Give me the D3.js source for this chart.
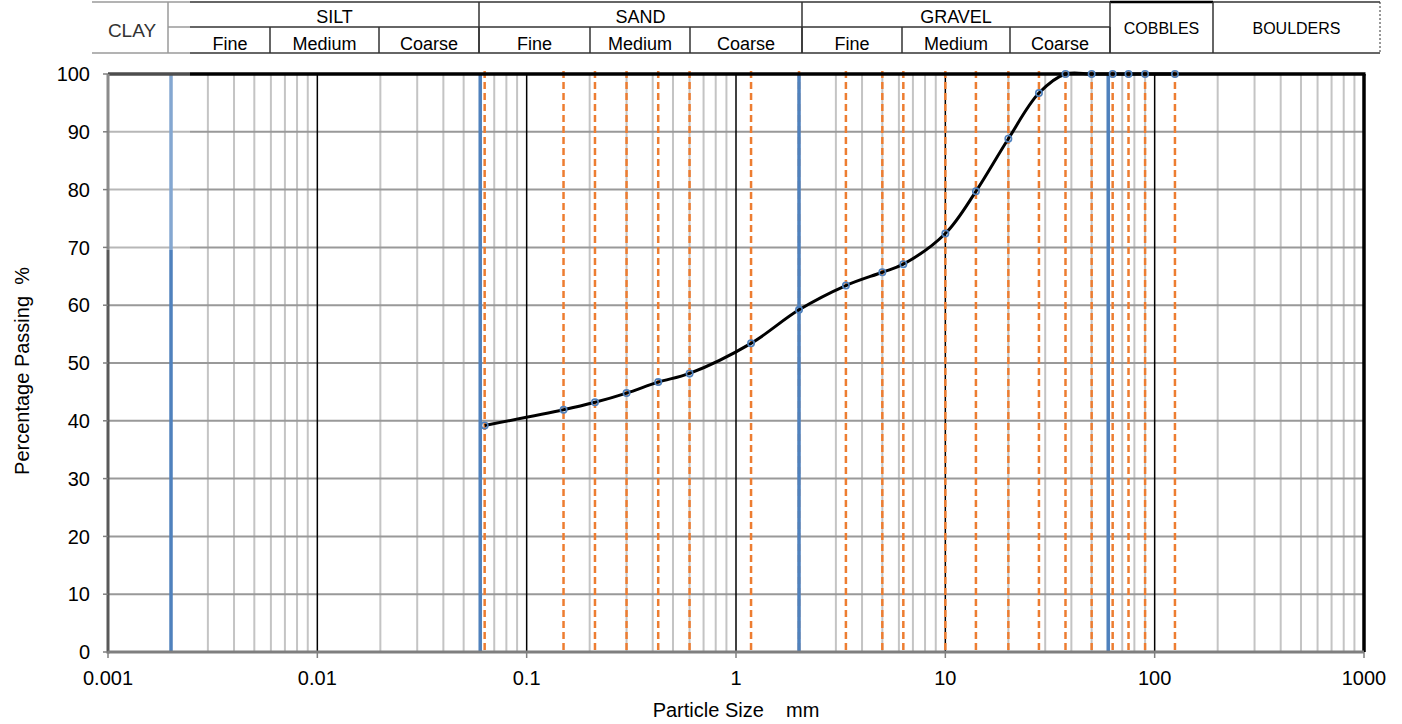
<!DOCTYPE html>
<html>
<head>
<meta charset="utf-8">
<script src="https://cdn.jsdelivr.net/npm/d3@7"></script>
<style>
  body { margin: 0; background: #fff; }
  text { font-family: "Liberation Sans", Arial, sans-serif; fill: #000; }
</style>
</head>
<body>
<script>
// sieve sizes (mm) and percentage passing
const sieveSizes = [0.063, 0.15, 0.212, 0.3, 0.425, 0.6, 1.18, 2, 3.35, 5, 6.3, 10, 14, 20, 28, 37.5, 50, 63, 75, 90, 125];
const passing    = [39.2, 41.9, 43.2, 44.8, 46.7, 48.2, 53.4, 59.2, 63.4, 65.7, 67.1, 72.4, 79.7, 88.8, 96.7, 100, 100, 100, 100, 100, 100];

// soil class boundaries (mm)
const boundaries = [0.002, 0.06, 2, 60];

// axis ticks
const xTicks = [0.001, 0.01, 0.1, 1, 10, 100, 1000];
const yTicks = [0, 10, 20, 30, 40, 50, 60, 70, 80, 90, 100];

// header table labels
const groups = ["SILT", "SAND", "GRAVEL"];
const subLabels = ["Fine", "Medium", "Coarse"];
const bigCells = ["COBBLES", "BOULDERS"];

const W = 1402, H = 724;
const pLeft = 108, pRight = 1364, pTop = 74, pBottom = 652;

const svg = d3.select("body").append("svg")
  .attr("width", W)
  .attr("height", H);

const x = d3.scaleLog().domain([0.001, 1000]).range([pLeft, pRight]);
const y = d3.scaleLinear().domain([0, 100]).range([pBottom, pTop]);

// minor vertical grid
const minor = [];
for (let e = -3; e < 3; e++) {
  for (let m = 2; m <= 9; m++) minor.push(m * Math.pow(10, e));
}
svg.append("g").selectAll("line")
  .data(minor)
  .join("line")
  .attr("x1", d => x(d)).attr("x2", d => x(d))
  .attr("y1", pTop).attr("y2", pBottom)
  .attr("stroke", "#c4c4c4")
  .attr("stroke-width", 2);

// horizontal grid
svg.append("g").selectAll("line")
  .data(yTicks.slice(1, -1))
  .join("line")
  .attr("x1", pLeft).attr("x2", pRight)
  .attr("y1", d => y(d)).attr("y2", d => y(d))
  .attr("stroke", "#999")
  .attr("stroke-width", 2);

// decade lines
svg.append("g").selectAll("line")
  .data(xTicks.slice(1, -1))
  .join("line")
  .attr("x1", d => x(d)).attr("x2", d => x(d))
  .attr("y1", pTop).attr("y2", pBottom)
  .attr("stroke", "#000")
  .attr("stroke-width", 1.5);

// sieve lines
svg.append("g").selectAll("line")
  .data(sieveSizes)
  .join("line")
  .attr("x1", d => x(d)).attr("x2", d => x(d))
  .attr("y1", pTop - 3).attr("y2", pBottom)
  .attr("stroke", "#ed7d31")
  .attr("stroke-width", 2.5)
  .attr("stroke-dasharray", "7,4");

// class boundaries
svg.append("g").selectAll("line")
  .data(boundaries)
  .join("line")
  .attr("x1", d => x(d)).attr("x2", d => x(d))
  .attr("y1", pTop).attr("y2", pBottom)
  .attr("stroke", "#4f81bd")
  .attr("stroke-width", 3.5);

// plot frame
svg.append("line").attr("x1", pLeft).attr("x2", pRight + 1.5).attr("y1", pTop).attr("y2", pTop)
  .attr("stroke", "#000").attr("stroke-width", 3.5);
svg.append("line").attr("x1", pRight).attr("x2", pRight).attr("y1", pTop).attr("y2", pBottom)
  .attr("stroke", "#000").attr("stroke-width", 3.5);
svg.append("line").attr("x1", pLeft).attr("x2", pLeft).attr("y1", pTop).attr("y2", pBottom + 1.5)
  .attr("stroke", "#595959").attr("stroke-width", 3);
svg.append("line").attr("x1", pLeft).attr("x2", pRight).attr("y1", pBottom).attr("y2", pBottom)
  .attr("stroke", "#7f7f7f").attr("stroke-width", 3);

// faded patch left by the pasted header image
svg.append("rect").attr("x", 96).attr("y", 70).attr("width", 94).attr("height", 180)
  .attr("fill", "#fff").attr("opacity", 0.3);

// ticks
svg.append("g").selectAll("line")
  .data(yTicks)
  .join("line")
  .attr("x1", pLeft - 5).attr("x2", pLeft)
  .attr("y1", d => y(d)).attr("y2", d => y(d))
  .attr("stroke", "#7f7f7f").attr("stroke-width", 1.5);
svg.append("g").selectAll("line")
  .data(xTicks)
  .join("line")
  .attr("x1", d => x(d)).attr("x2", d => x(d))
  .attr("y1", pBottom).attr("y2", pBottom + 6)
  .attr("stroke", "#7f7f7f").attr("stroke-width", 1.5);

// tick labels
svg.append("g").selectAll("text")
  .data(yTicks)
  .join("text")
  .attr("x", pLeft - 18)
  .attr("y", d => y(d))
  .attr("dy", "0.36em")
  .attr("text-anchor", "end")
  .attr("font-size", 20)
  .text(d => d);
svg.append("g").selectAll("text")
  .data(xTicks)
  .join("text")
  .attr("x", d => x(d))
  .attr("y", 685)
  .attr("text-anchor", "middle")
  .attr("font-size", 20)
  .text(d => d);

// axis titles
svg.append("text")
  .attr("x", 736).attr("y", 717)
  .attr("text-anchor", "middle")
  .attr("font-size", 20)
  .attr("xml:space", "preserve")
  .text("Particle Size    mm");
svg.append("text")
  .attr("transform", "translate(29,371) rotate(-90)")
  .attr("text-anchor", "middle")
  .attr("font-size", 20)
  .attr("xml:space", "preserve")
  .text("Percentage Passing  %");

// grading curve
const pts = sieveSizes.map((s, i) => [s, passing[i]]);
svg.append("path")
  .datum(pts)
  .attr("fill", "none")
  .attr("stroke", "#000")
  .attr("stroke-width", 3)
  .attr("d", d3.line().x(d => x(d[0])).y(d => y(d[1])).curve(d3.curveCatmullRom.alpha(0.5)));

svg.append("g").selectAll("circle")
  .data(pts)
  .join("circle")
  .attr("cx", d => x(d[0]))
  .attr("cy", d => y(d[1]))
  .attr("r", 3.2)
  .attr("fill", "none")
  .attr("stroke", "#4f81bd")
  .attr("stroke-width", 1.6);

// header table
const hTop = 2, hMid = 27, hBot = 53;
const subEdges = [190, 270, 379, 479, 590, 690, 802, 902, 1010, 1110];
const bigEdges = [1110, 1213, 1380];
const head = svg.append("g");
const hl = (x1, y1, x2, y2, c, w) => head.append("line")
  .attr("x1", x1).attr("y1", y1).attr("x2", x2).attr("y2", y2)
  .attr("stroke", c || "#333").attr("stroke-width", w || 1.5);

// clay cell (greyer)
hl(92, hTop, 190, hTop, "#9a9a9a");
hl(92, hBot, 190, hBot, "#9a9a9a");
hl(168, hTop, 168, hBot, "#9a9a9a");
hl(168, hMid, 190, hMid, "#9a9a9a");
head.append("text").attr("x", 132).attr("y", 37).attr("text-anchor", "middle")
  .attr("font-size", 19).style("fill", "#333").text("CLAY");

hl(190, hTop, 1380, hTop);
hl(190, hBot, 1380, hBot);
hl(190, hMid, 1110, hMid);
hl(1110, hTop, 1213, hTop, "#000", 2.5);

groups.forEach((g, gi) => {
  const e0 = subEdges[gi * 3], e1 = subEdges[gi * 3 + 3];
  hl(e1, hTop, e1, hBot);
  head.append("text").attr("x", (e0 + e1) / 2).attr("y", 23)
    .attr("text-anchor", "middle").attr("font-size", 18).text(g);
  subLabels.forEach((s, si) => {
    const a = subEdges[gi * 3 + si], b = subEdges[gi * 3 + si + 1];
    hl(b, hMid, b, hBot);
    head.append("text").attr("x", (a + b) / 2).attr("y", 50)
      .attr("text-anchor", "middle").attr("font-size", 18).text(s);
  });
});
hl(1213, hTop, 1213, hBot);
hl(1380, hTop, 1380, hBot, "#333", 1).attr("stroke-dasharray", "2,2");
bigCells.forEach((c, i) => {
  head.append("text").attr("x", (bigEdges[i] + bigEdges[i + 1]) / 2).attr("y", 34)
    .attr("text-anchor", "middle").attr("font-size", 16).text(c);
});
</script>
</body>
</html>
